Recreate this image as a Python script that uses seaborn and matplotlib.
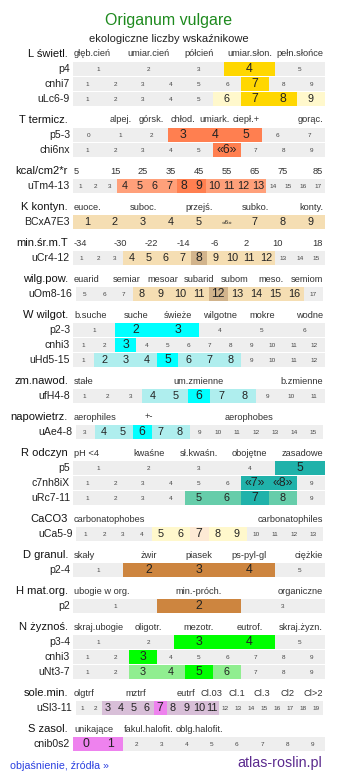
import numpy as np
import matplotlib
matplotlib.use("Agg")
import matplotlib.pyplot as plt
import seaborn as sns

# ---------------- data ----------------
title = "Origanum vulgare"
subtitle = "ekologiczne liczby wskaźnikowe"

# category labels: one entry per slot of the header scale ('' = empty slot)
cats_L = ["głęb.cień", "umiar.cień", "półcień", "umiar.słon.", "pełn.słońce"]
cats_T = ["", "alpej.", "górsk.", "chłod.", "umiark.", "ciepł.+", "", "gorąc."]
cats_kcal = ["5", "15", "25", "35", "45", "55", "65", "75", "85"]
cats_K = ["euoce.", "", "suboc.", "", "przejś.", "", "subko.", "", "konty."]
cats_min = ["-34", "-30", "-22", "-14", "-6", "2", "10", "18"]
cats_wilg = ["euarid", "semiar", "mesoar", "subarid", "subom", "meso.", "semiom"]
cats_W = ["b.suche", "suche", "świeże", "wilgotne", "mokre", "wodne"]
cats_zm = ["stałe", "um.zmienne", "b.zmienne"]
cats_nap = ["aerophiles", "+-", "", "aerophobes", ""]
cats_R = ["pH <4", "kwaśne", "sł.kwaśn.", "obojętne", "zasadowe"]
cats_Ca = ["carbonatophobes", "carbonatophiles"]
cats_D = ["skały", "żwir", "piasek", "ps-pyl-gl", "ciężkie"]
cats_H = ["ubogie w org.", "min.-próch.", "organiczne"]
cats_N = ["skraj.ubogie", "oligotr.", "mezotr.", "eutrof.", "skraj.żyzn."]
cats_sole = ["olgtrf", "", "mztrf", "", "eutrf", "Cl.03", "Cl.1", "Cl.3", "Cl2", "Cl>2"]
cats_S = ["unikające", "fakul.halofit.", "oblg.halofit.", "", ""]

# rows: (label, first value, last value, {value: level}) ; level 2 = optimum, 1 = range
rows_L = [("p4", 1, 5, {4: 2}),
          ("cnhi7", 1, 9, {7: 2}),
          ("uLc6-9", 1, 9, {6: 1, 7: 2, 8: 2, 9: 1})]
rows_T = [("p5-3", 0, 7, {3: 2, 4: 2, 5: 2}),
          ("chi6nx", 1, 9, {6: 2})]
rows_kcal = [("uTm4-13", 1, 17, {4: 1, 5: 1, 6: 1, 7: 1, 8: 2, 9: 2,
                                 10: 1, 11: 1, 12: 1, 13: 1})]
rows_K = [("BCxA7E3", 1, 9, {1: 1, 2: 1, 3: 1, 4: 1, 5: 1, 6: 1, 7: 1, 8: 1, 9: 1})]
rows_min = [("uCr4-12", 1, 15, {4: 1, 5: 1, 6: 1, 7: 1, 8: 2, 9: 1, 10: 1, 11: 1, 12: 1})]
rows_wilg = [("uOm8-16", 5, 17, {8: 1, 9: 1, 10: 1, 11: 1, 12: 2, 13: 1, 14: 1, 15: 1, 16: 1})]
rows_W = [("p2-3", 1, 6, {2: 2, 3: 2}),
          ("cnhi3", 1, 12, {3: 2}),
          ("uHd5-15", 1, 12, {2: 1, 3: 1, 4: 1, 5: 2, 6: 1, 7: 1, 8: 1})]
rows_zm = [("ufH4-8", 1, 11, {4: 1, 5: 1, 6: 2, 7: 1, 8: 1})]
rows_nap = [("uAe4-8", 3, 15, {4: 1, 5: 1, 6: 2, 7: 1, 8: 1})]
rows_R = [("p5", 1, 5, {5: 2}),
          ("c7nh8iX", 1, 9, {7: 2, 8: 2}),
          ("uRc7-11", 1, 9, {5: 1, 6: 1, 7: 2, 8: 1})]
rows_Ca = [("uCa5-9", 1, 13, {5: 1, 6: 1, 7: 2, 8: 1, 9: 1})]
rows_D = [("p2-4", 1, 5, {2: 2, 3: 2, 4: 2})]
rows_H = [("p2", 1, 3, {2: 2})]
rows_N = [("p3-4", 1, 5, {3: 2, 4: 2}),
          ("cnhi3", 1, 9, {3: 2}),
          ("uNt3-7", 1, 9, {3: 1, 4: 1, 5: 2, 6: 1})]
rows_sole = [("uSl3-11", 1, 19, {3: 1, 4: 1, 5: 1, 6: 1, 7: 2, 8: 1, 9: 1, 10: 1, 11: 1})]
rows_S = [("cnib0s2", 0, 9, {0: 2, 1: 2})]

# special cell texts
cell_text = {("chi6nx", 6): "«6»", ("BCxA7E3", 6): "«6»",
             ("c7nh8iX", 7): "«7»", ("c7nh8iX", 8): "«8»"}

sections = [
    ("L świetl.", cats_L, rows_L, "L"),
    ("T termicz.", cats_T, rows_T, "T"),
    ("kcal/cm2*r", cats_kcal, rows_kcal, "T"),
    ("K kontyn.", cats_K, rows_K, "K"),
    ("min.śr.m.T", cats_min, rows_min, "K"),
    ("wilg.pow.", cats_wilg, rows_wilg, "K"),
    ("W wilgot.", cats_W, rows_W, "W"),
    ("zm.nawod.", cats_zm, rows_zm, "W"),
    ("napowietrz.", cats_nap, rows_nap, "W"),
    ("R odczyn", cats_R, rows_R, "R"),
    ("CaCO3", cats_Ca, rows_Ca, "Ca"),
    ("D granul.", cats_D, rows_D, "D"),
    ("H mat.org.", cats_H, rows_H, "D"),
    ("N żyznoś.", cats_N, rows_N, "N"),
    ("sole.min.", cats_sole, rows_sole, "S"),
    ("S zasol.", cats_S, rows_S, "S"),
]

# ---------------- style ----------------
palette = {  # (range colour, optimum colour)
    "L": ("#fff8cc", "#ffd700"),
    "T": ("#ffa07a", "#ff7f50"),
    "K": ("#f5deb3", "#d2b48c"),
    "W": ("#afeeee", "#00ffff"),
    "R": ("#66cdaa", "#20b2aa"),
    "Ca": ("#fff8cc", "#fdead5"),
    "D": ("#deb887", "#cd853f"),
    "N": ("#90ee90", "#00ff00"),
    "S": ("#d8bfd8", "#ee82ee"),
}
GREY = "#eeeeee"
inset = {"uOm8-16": 2.5, "uAe4-8": 2.5, "uCa5-9": 2.5, "uSl3-11": 2.5}

sns.set_theme(style="white")
plt.rcParams["font.family"] = ["Liberation Sans", "DejaVu Sans"]

W_PX, H_PX = 337, 781
fig = plt.figure(figsize=(W_PX / 100, H_PX / 100), dpi=100)
ax = fig.add_axes([0, 0, 1, 1])
ax.set_xlim(0, W_PX)
ax.set_ylim(H_PX, 0)
ax.axis("off")

X0, X1 = 73.0, 325.0
ROW_H = 14.4
PITCH = 15.0
GAP = 21.0

ax.text(168.5, 20, title, ha="center", va="center", fontsize=11.5, color="#1e8a1e")
ax.text(168.5, 38.5, subtitle, ha="center", va="center", fontsize=8.0, color="#222222")

y = 54.0
for s_i, (head, cats, rows, key) in enumerate(sections):
    if s_i > 0:
        y += GAP
    # header line
    ax.text(68, y, head, ha="right", va="center", fontsize=8.0, color="#111111")
    n_c = len(cats)
    cw = (X1 - X0) / n_c
    for i, c in enumerate(cats):
        if not c:
            continue
        if i == 0:
            xx, ha = X0 + 1, "left"
        elif i == n_c - 1:
            xx, ha = X1 - 2, "right"
        else:
            xx, ha = X0 + (i + 0.5) * cw, "center"
        ax.text(xx, y, c, ha=ha, va="center", fontsize=6.7, color="#333333")
    for r_i, (lab, v0, v1, marks) in enumerate(rows):
        y += PITCH
        vals = list(range(v0, v1 + 1))
        n = len(vals)
        ins = inset.get(lab, 0.0)
        x0, x1 = X0 + ins, X1 - ins
        w = (x1 - x0) / n
        lefts = [x0 + k * w for k in range(n)]
        cols = []
        for v in vals:
            lvl = marks.get(v, 0)
            cols.append(GREY if lvl == 0 else palette[key][lvl - 1])
        ax.barh([y] * n, [w] * n, left=lefts, height=ROW_H, color=cols,
                edgecolor="none", linewidth=0)
        ax.text(x0 - 3, y, lab, ha="right", va="center", fontsize=7.6, color="#222222")
        for k, v in enumerate(vals):
            lvl = marks.get(v, 0)
            txt = cell_text.get((lab, v), str(v))
            if lvl == 2:
                fs = 8.8
            elif lvl == 1:
                fs = 4.6 if txt.startswith("«") else 7.8
            else:
                fs = 4.6
            ax.text(lefts[k] + w / 2, y + 0.3, txt, ha="center", va="center",
                    fontsize=fs, color="#222222" if lvl else "#444444")

ax.text(10, 766, "objaśnienie, źródła »", ha="left", va="center", fontsize=7.7,
        color="#2a3fe0")
ax.text(322, 763, "atlas-roslin.pl", ha="right", va="center", fontsize=10.3,
        color="#5b2a8e")

fig.savefig("out.png", dpi=100)
